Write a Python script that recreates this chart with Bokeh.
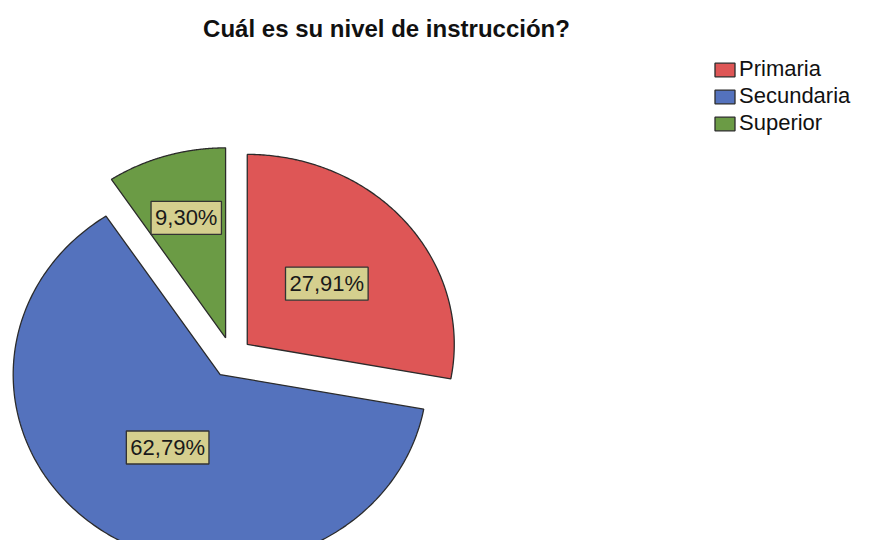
import numpy as np
from bokeh.plotting import figure
from bokeh.models import Range1d, Legend, LegendItem, Label, ColumnDataSource
from bokeh.core.properties import value
from bokeh.embed import file_html
from bokeh.resources import INLINE

# ---- data ----
categories = ["Primaria", "Secundaria", "Superior"]
percentages = [27.91, 62.79, 9.30]
colors = ["#de5656", "#5472bd", "#6b9b45"]
title_text = "Cuál es su nivel de instrucción?"

# ---- layout ----
W, H = 853, 540
cx, cy = 231.0, 357.0      # pie centre (pixels, y downward)
rx, ry = 207.0, 190.0      # elliptical radii
explode = 20.5
label_frac = [0.50, 0.46, 0.66]

p = figure(width=W, height=H, x_range=Range1d(0, W), y_range=Range1d(H, 0),
           output_backend="svg", toolbar_location=None, min_border=0)
p.axis.visible = False
p.grid.visible = False
p.outline_line_color = None
p.background_fill_color = "white"

total = sum(percentages)
start = 0.0
items = []
lx, ly, ltxt = [], [], []
for cat, val, col, lf in zip(categories, percentages, colors, label_frac):
    span = val / total * 2 * np.pi
    a0, a1 = start, start + span
    mid = (a0 + a1) / 2
    ox = cx + explode * np.sin(mid)
    oy = cy - explode * np.cos(mid)
    th = np.linspace(a0, a1, 200)
    xs = np.concatenate([[ox], ox + rx * np.sin(th), [ox]])
    ys = np.concatenate([[oy], oy - ry * np.cos(th), [oy]])
    r = p.patch(xs, ys, fill_color=col, line_color="#2b2b2b", line_width=1.3)
    items.append(LegendItem(label=cat, renderers=[r]))
    lx.append(ox + lf * rx * np.sin(mid))
    ly.append(oy - lf * ry * np.cos(mid))
    ltxt.append(f"{val:.2f}".replace(".", ",") + "%")
    start = a1

src = ColumnDataSource(dict(x=lx, y=ly, t=ltxt))
p.text(x="x", y="y", text="t", source=src, text_align="center",
       text_baseline="middle", text_font_size="22px", text_color="#1a1a1a",
       text_font=value("Liberation Sans"),
       background_fill_color="#d5cf8e", border_line_color="#333333",
       border_line_width=1.3, padding=4)

title = Label(x=386, y=28, text=title_text, text_align="center",
              text_baseline="middle", text_font_size="24px",
              text_font_style="bold", text_font="Liberation Sans",
              text_color="#111111")
p.add_layout(title)

legend = Legend(items=items, location=(712, 404),
                glyph_width=25, glyph_height=17, label_standoff=2,
                spacing=1, padding=0, margin=0, label_height=17,
                label_text_font_size="22px", label_text_font="Liberation Sans",
                label_text_color="#111111",
                border_line_alpha=0, background_fill_alpha=0)
p.add_layout(legend)

open("out.html", "w").write(file_html(p, INLINE))
